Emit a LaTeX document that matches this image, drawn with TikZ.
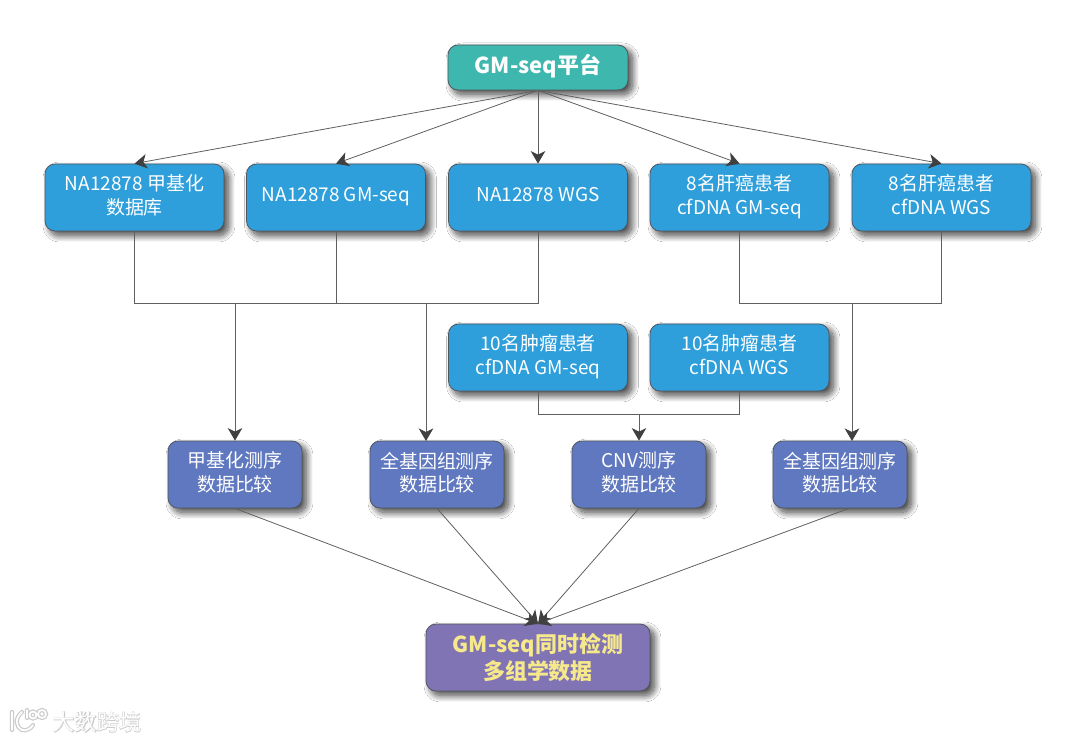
\documentclass[tikz,border=0pt]{standalone}
\usepackage{fontspec}
\setmainfont{Noto Sans CJK SC}
\usetikzlibrary{arrows.meta,shadows.blur}
\definecolor{tealbox}{HTML}{3EB8AE}
\definecolor{bluebox}{HTML}{2E9FDB}
\definecolor{slatebox}{HTML}{5F78BF}
\definecolor{purplebox}{HTML}{8174B4}
\definecolor{edgeline}{HTML}{4F5660}
\definecolor{linkline}{HTML}{5F5F5F}
\definecolor{goldtext}{HTML}{F6E98B}
\tikzset{
  basebox/.style={draw=edgeline, line width=0.45pt, rounded corners=0.2cm, inner sep=0pt,
    align=center, text=white, font=\fontsize{10.8pt}{13.6pt}\selectfont,
    blur shadow={shadow xshift=0.09cm, shadow yshift=-0.09cm, shadow blur steps=24, shadow blur radius=0.13cm, shadow opacity=75}},
  topbox/.style={basebox, fill=tealbox, minimum width=3.6cm, minimum height=0.9cm,
    font=\fontsize{12.5pt}{14pt}\selectfont\bfseries, execute at end node=\rule[-4.2pt]{0pt}{0pt}},
  srcbox/.style={basebox, fill=bluebox, minimum width=3.58cm, minimum height=1.34cm,
    execute at end node=\rule[-2.95pt]{0pt}{0pt}},
  cmpbox/.style={basebox, fill=slatebox, minimum width=2.68cm, minimum height=1.34cm,
    execute at end node=\rule[-2.95pt]{0pt}{0pt}},
  endbox/.style={basebox, fill=purplebox, minimum width=4.48cm, minimum height=1.34cm, text=goldtext,
    font=\fontsize{12.5pt}{15.2pt}\selectfont\bfseries, execute at end node=\rule[-1.5pt]{0pt}{0pt}},
  link/.style={draw=linkline, line width=0.45pt},
  markglow/.style={text=black!20, font=\fontsize{12.6pt}{14pt}\selectfont\addfontfeatures{FakeBold=4}},
  markfront/.style={text=white, font=\fontsize{12.6pt}{14pt}\selectfont},
  >={Stealth[length=0.25cm,width=0.29cm,inset=0.07cm,color=black!75]}
}
\begin{document}
\begin{tikzpicture}[x=0.02cm,y=-0.02cm]
        \useasboundingbox (0,0) rectangle (1080,742);
        \fill[white] (0,0) rectangle (1080,742);
        \node[topbox] (platform) at (538,67.5) {GM-seq平台};
        \node[srcbox] (methdb) at (134.5,197.5) {NA12878 甲基化\\数据库};
        \node[srcbox] (nagm) at (336,197.5) {NA12878 GM-seq};
        \node[srcbox] (nawgs) at (538,197.5) {NA12878 WGS};
        \node[srcbox] (livergm) at (739.5,197.5) {8名肝癌患者\\cfDNA GM-seq};
        \node[srcbox] (liverwgs) at (941.5,197.5) {8名肝癌患者\\cfDNA WGS};
        \node[srcbox] (tumorgm) at (538,357.5) {10名肿瘤患者\\cfDNA GM-seq};
        \node[srcbox] (tumorwgs) at (739.5,357.5) {10名肿瘤患者\\cfDNA WGS};
        \node[cmpbox] (cmpmeth) at (235,474.5) {甲基化测序\\数据比较};
        \node[cmpbox] (cmpwgs) at (437,474.5) {全基因组测序\\数据比较};
        \node[cmpbox] (cmpcnv) at (639,474.5) {CNV测序\\数据比较};
        \node[cmpbox] (cmpliver) at (840,474.5) {全基因组测序\\数据比较};
        \node[endbox] (multi) at (538,657.5) {GM-seq同时检测\\多组学数据};
        \coordinate (joinA) at (235,303);
        \coordinate (joinB) at (426,303);
        \coordinate (joinC) at (852,303);
        \coordinate (joinD) at (639,414);
        \coordinate (dropB) at (426,441);
        \coordinate (dropC) at (852,441);
        \coordinate (outliver) at (850,508);
        \draw[link,->] (platform.south) -- (methdb.north);
        \draw[link,->] (platform.south) -- (nagm.north);
        \draw[link,->] (platform.south) -- (nawgs.north);
        \draw[link,->] (platform.south) -- (livergm.north);
        \draw[link,->] (platform.south) -- (liverwgs.north);
        \draw[link] (methdb.south) |- (joinA);
        \draw[link] (nagm.south) |- (joinA);
        \draw[link] (nawgs.south) |- (joinB);
        \draw[link] (joinA) -- (joinB);
        \draw[link] (livergm.south) |- (joinC);
        \draw[link] (liverwgs.south) |- (joinC);
        \draw[link] (tumorgm.south) |- (joinD);
        \draw[link] (tumorwgs.south) |- (joinD);
        \draw[link,->] (joinA) -- (cmpmeth.north);
        \draw[link,->] (joinB) -- (dropB);
        \draw[link,->] (joinC) -- (dropC);
        \draw[link,->] (joinD) -- (cmpcnv.north);
        \draw[link,->] (cmpmeth.south) -- (multi.north);
        \draw[link,->] (cmpwgs.south) -- (multi.north);
        \draw[link,->] (cmpcnv.south) -- (multi.north);
        \draw[link,->] (outliver) -- (multi.north);
        % watermark
        \draw[black!20, line width=2.4pt, line cap=round] (12,712) -- (12,730) (22,712) .. controls (15,718) and (15,726) .. (22,730) .. controls (26,731) and (31,729) .. (33,725) (27,710) -- (27,718) (33,715) circle (3.5) (42,714) circle (4);
        \draw[white, line width=1pt, line cap=round] (12,712) -- (12,730) (22,712) .. controls (15,718) and (15,726) .. (22,730) .. controls (26,731) and (31,729) .. (33,725) (27,710) -- (27,718) (33,715) circle (3.5) (42,714) circle (4);
        \node[markglow] (markback) at (97,722) {大数跨境};
        \node[markfront] (mark) at (97,722) {大数跨境};
\end{tikzpicture}
\end{document}
